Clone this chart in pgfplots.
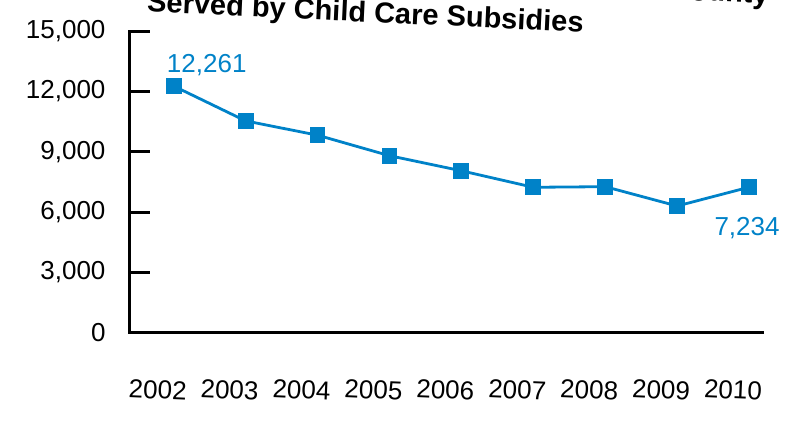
\documentclass[border=0pt]{standalone}
\usepackage{pgfplots}
\pgfplotsset{compat=1.18}
\usepackage{fontspec}
\setmainfont{Liberation Sans}
\definecolor{ccblue}{RGB}{0,130,200}

\begin{document}
\begin{tikzpicture}
\useasboundingbox (-130pt,-88.3pt) rectangle (669pt,332.7pt);
\begin{axis}[
    at={(0pt,0pt)}, anchor=south west,
    scale only axis,
    width=632pt, height=301.7pt,
    xmin=-0.608, xmax=8.18,
    ymin=0, ymax=15000,
    axis x line=bottom, axis y line=left,
    axis line style={-, line width=3pt, line cap=rect},
    xtick={0,...,8},
    xticklabels={2002,2003,2004,2005,2006,2007,2008,2009,2010},
    xtick style={draw=none},
    ytick={0,3000,...,15000},
    ytick style={line width=3pt, black},
    tick align=inside,
    major tick length=20pt,
    scaled y ticks=false,
    /pgf/number format/assume math mode=true,
    ticklabel style={font=\fontsize{26}{30}\selectfont},
    yticklabel style={anchor=east, xshift=-21pt},
    xticklabel style={anchor=center, yshift=-57pt, xshift=-16pt, rotate=-2.5},
    clip=false,
  ]
  % children served
  \addplot[ccblue, line width=2.8pt, mark=square*, mark size=6.5pt, mark options={solid}] coordinates {
    (0,12261) (1,10530) (2,9820) (3,8800) (4,8050)
    (5,7230) (6,7260) (7,6300) (8,7234)
  };
  \addplot[draw=none, mark=none, nodes near coords={12,261},
    every node near coord/.append style={anchor=center, xshift=33pt, yshift=21pt,
      text=ccblue, font=\fontsize{26}{30}\selectfont}] coordinates {(0,12261)};
  \addplot[draw=none, mark=none, nodes near coords={7,234},
    every node near coord/.append style={anchor=center, xshift=-2pt, yshift=-41pt,
      text=ccblue, font=\fontsize{26}{30}\selectfont}] coordinates {(8,7234)};
\end{axis}
\node[anchor=base, rotate=-2.7, font=\bfseries\fontsize{29}{34}\selectfont]
  at (235pt,310.7pt) {Served by Child Care Subsidies};
\node[anchor=base east, rotate=-2.7, font=\bfseries\fontsize{29}{34}\selectfont]
  at (642pt,328.7pt) {County};
\end{tikzpicture}
\end{document}
